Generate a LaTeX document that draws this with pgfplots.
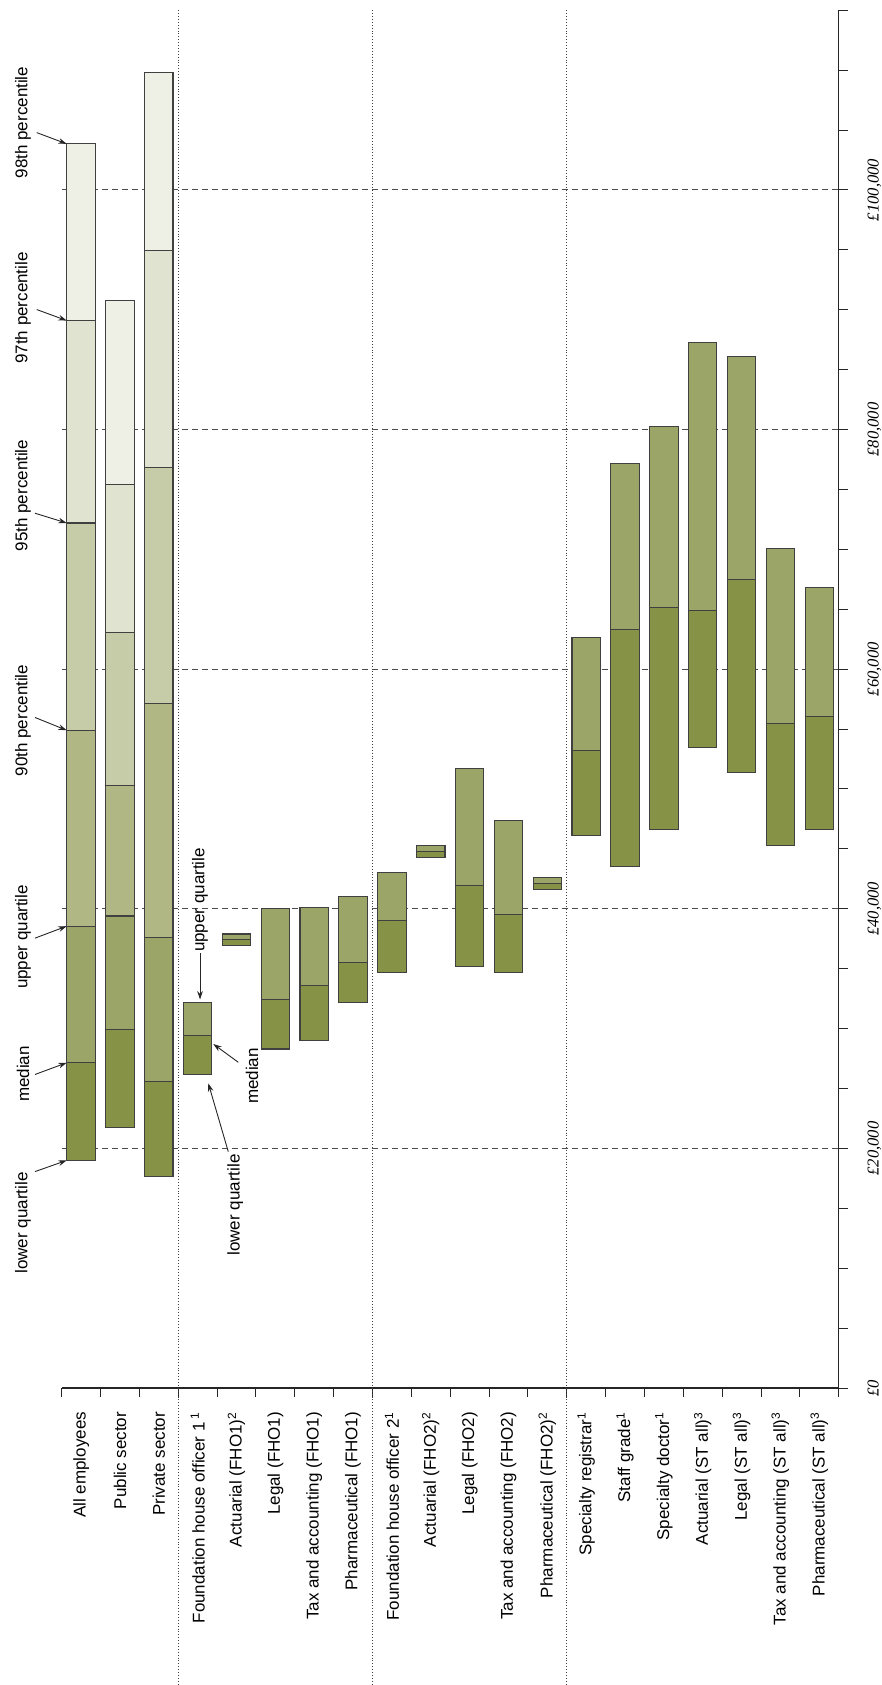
\documentclass[border=0pt]{standalone}
\usepackage{fontspec}
\setmainfont{Liberation Sans}
\newfontfamily\serifit{Liberation Serif}
\usepackage{pgfplots}
\pgfplotsset{compat=1.18}
\usepackage{pgfplotstable}
\usetikzlibrary{arrows.meta}

\definecolor{cA}{RGB}{134,147,70}
\definecolor{cB}{RGB}{155,165,103}
\definecolor{cC}{RGB}{176,183,133}
\definecolor{cD}{RGB}{198,203,168}
\definecolor{cE}{RGB}{224,227,207}
\definecolor{cF}{RGB}{238,239,229}

\pgfplotstableread{
x lq med uq p90 p95 p97 p98
0 19000 27150 38550 54900 72200 89100 103850
1 21750 29950 39400 50300 63100 75450 90800
2 17650 25550 37600 57100 76850 94950 109800
3 26200 29450 32200 32200 32200 32200 32200
4 36900 37400 37900 37900 37900 37900 37900
5 28300 32450 40000 40000 40000 40000 40000
6 29000 33600 40100 40100 40100 40100 40100
7 32200 35550 41050 41050 41050 41050 41050
8 34700 39000 43000 43000 43000 43000 43000
9 44300 44800 45300 45300 45300 45300 45300
10 35150 41950 51700 51700 51700 51700 51700
11 34700 39550 47350 47350 47350 47350 47350
12 41600 42100 42600 42600 42600 42600 42600
13 46150 53250 62650 62650 62650 62650 62650
14 43500 63350 77150 77150 77150 77150 77150
15 46600 65150 80250 80250 80250 80250 80250
16 53500 64900 87300 87300 87300 87300 87300
17 51400 67500 86100 86100 86100 86100 86100
18 45250 55500 70100 70100 70100 70100 70100
19 46600 56050 66850 66850 66850 66850 66850
}\data

\tikzset{annot/.style={rotate=90, font=\fontsize{8.5}{10}\selectfont, inner sep=0pt},
  arr/.style={-{Stealth[length=4.2pt,width=2.8pt]}, line width=0.45pt, black!85},
  sep/.style={densely dotted, line width=0.45pt, black!75}}

\begin{document}
\begin{tikzpicture}
\useasboundingbox (-30.85pt,-148.5pt) rectangle (410.15pt,694pt);
\begin{axis}[
  at={(0,0)}, anchor=south west,
  width=388.5pt, height=688.85pt, scale only axis,
  xmin=-0.5, xmax=19.5, ymin=0, ymax=115000,
  axis x line*=bottom, axis y line*=right,
  axis line style={line width=0.6pt, black!85},
  ybar stacked, bar width=0.73,
  clip=false,
  scaled y ticks=false,
  xtick={0,...,19},
  xticklabels={All employees, Public sector, Private sector,
    Foundation house officer 1\,\textsuperscript{1}, Actuarial (FHO1)\textsuperscript{2},
    Legal (FHO1), Tax and accounting (FHO1), Pharmaceutical (FHO1),
    Foundation house officer 2\textsuperscript{1}, Actuarial (FHO2)\textsuperscript{2},
    Legal (FHO2), Tax and accounting (FHO2), Pharmaceutical (FHO2)\textsuperscript{2},
    Specialty registrar\textsuperscript{1}, Staff grade\textsuperscript{1},
    Specialty doctor\textsuperscript{1}, Actuarial (ST all)\textsuperscript{3},
    Legal (ST all)\textsuperscript{3}, Tax and accounting (ST all)\textsuperscript{3},
    Pharmaceutical (ST all)\textsuperscript{3}},
  major x tick style={draw=none},
  minor xtick={-0.5,0.5,...,19.5},
  ytick={0,20000,40000,60000,80000,100000},
  yticklabels={{£0},{£20,000},{£40,000},{£60,000},{£80,000},{£100,000}},
  minor ytick={5000,10000,...,115000},
  tick align=outside,
  major tick length=4.4pt, minor tick length=4.4pt,
  tick style={line width=0.5pt, black!85},
  ymajorgrids,
  major grid style={dash pattern=on 3.2pt off 1.8pt, line width=0.5pt, black!70},
  xticklabel style={font=\fontsize{8.5}{10}\selectfont, yshift=-4pt, rotate=90, anchor=east},
  yticklabel style={font=\serifit\itshape\fontsize{8.3}{9}\selectfont, xshift=6.5pt, rotate=90, anchor=north},
]
\addplot[draw=none, fill=none] table[x=x, y=lq] {\data};
\addplot[fill=cA, draw=black!75, line width=0.55pt] table[x=x, y expr=\thisrow{med}-\thisrow{lq}] {\data};
\addplot[fill=cB, draw=black!75, line width=0.55pt] table[x=x, y expr=\thisrow{uq}-\thisrow{med}] {\data};
\addplot[fill=cC, draw=black!75, line width=0.55pt] table[x=x, y expr=\thisrow{p90}-\thisrow{uq}] {\data};
\addplot[fill=cD, draw=black!75, line width=0.55pt] table[x=x, y expr=\thisrow{p95}-\thisrow{p90}] {\data};
\addplot[fill=cE, draw=black!75, line width=0.55pt] table[x=x, y expr=\thisrow{p97}-\thisrow{p95}] {\data};
\addplot[fill=cF, draw=black!75, line width=0.55pt] table[x=x, y expr=\thisrow{p98}-\thisrow{p97}] {\data};

% group separators
\draw[sep] (axis cs:2.5,115000) -- (axis cs:2.5,0) -- ++(0pt,-148.5pt);
\draw[sep] (axis cs:7.5,115000) -- (axis cs:7.5,0) -- ++(0pt,-148.5pt);
\draw[sep] (axis cs:12.5,115000) -- (axis cs:12.5,0) -- ++(0pt,-148.5pt);

% percentile annotations
\node[annot] at (axis cs:-1.496,13770) {lower quartile};
\node[annot] at (axis cs:-1.496,26210) {median};
\node[annot] at (axis cs:-1.496,37645) {upper quartile};
\node[annot] at (axis cs:-1.496,55716) {90th percentile};
\node[annot] at (axis cs:-1.496,74497) {95th percentile};
\node[annot] at (axis cs:-1.496,90148) {97th percentile};
\node[annot] at (axis cs:-1.496,105630) {98th percentile};
\draw[arr] (axis cs:-1.187,18063) -- (axis cs:-0.371,19000);
\draw[arr] (axis cs:-1.187,26170) -- (axis cs:-0.371,27150);
\draw[arr] (axis cs:-1.187,37550) -- (axis cs:-0.371,38550);
\draw[arr] (axis cs:-1.187,55970) -- (axis cs:-0.371,54900);
\draw[arr] (axis cs:-1.187,73020) -- (axis cs:-0.371,72200);
\draw[arr] (axis cs:-1.143,90020) -- (axis cs:-0.371,89100);
\draw[arr] (axis cs:-1.143,104790) -- (axis cs:-0.371,103850);

% FHO1 annotations
\node[annot] at (axis cs:3.06,40733) {upper quartile};
\node[annot] at (axis cs:4.398,26043) {median};
\node[annot] at (axis cs:3.964,15275) {lower quartile};
\draw[arr] (axis cs:3.06,36310) -- (axis cs:3.06,32430);
\draw[arr] (axis cs:4.046,27186) -- (axis cs:3.402,28714);
\draw[arr] (axis cs:3.788,19724) -- (axis cs:3.274,25433);
\end{axis}
\end{tikzpicture}
\end{document}
